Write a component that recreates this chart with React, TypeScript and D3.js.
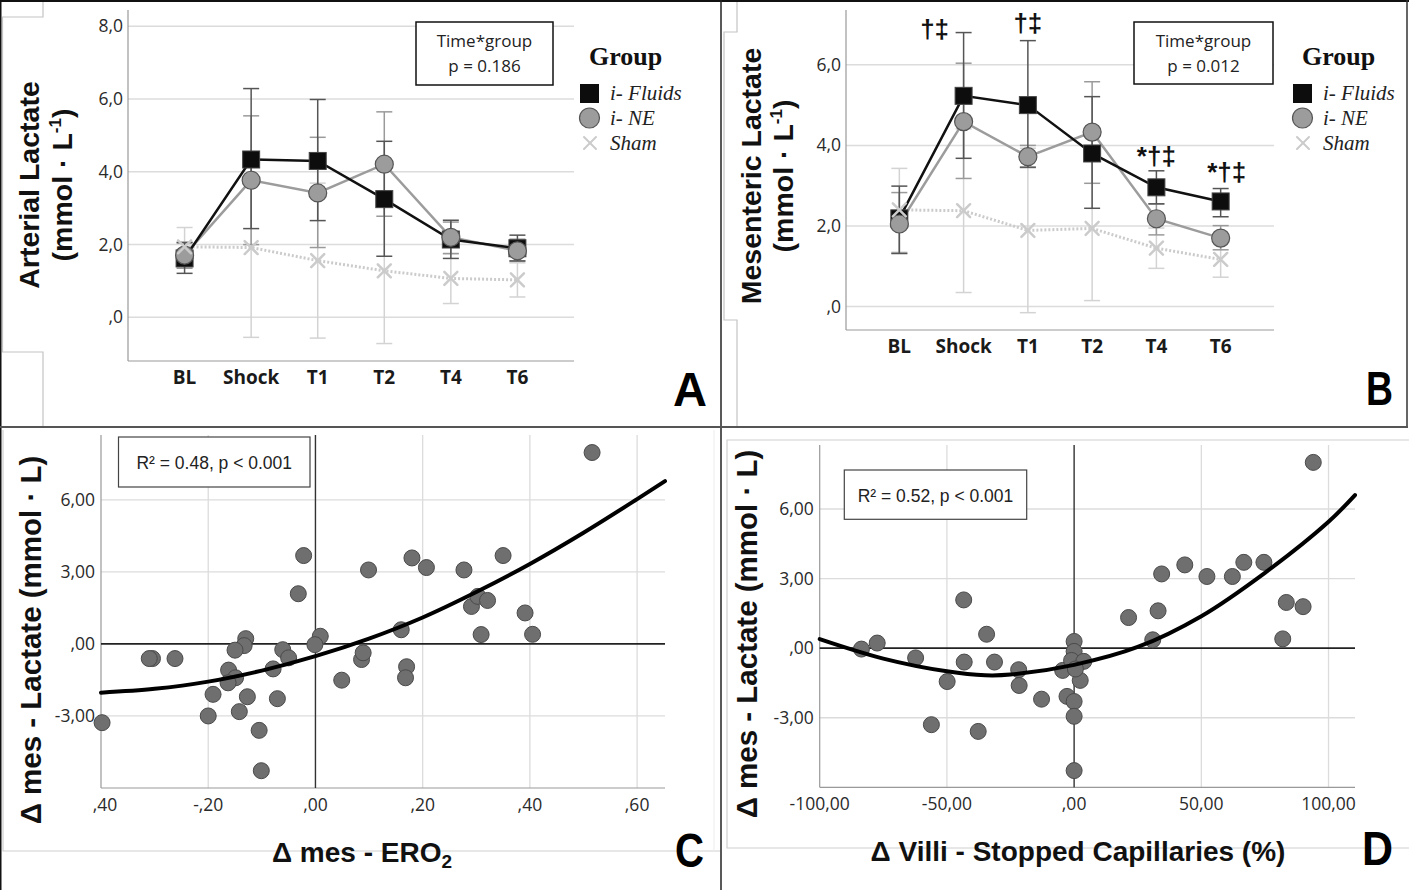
import React from "react";
import * as d3 from "d3";

// ---------- DATA ----------
const timepoints = ["BL", "Shock", "T1", "T2", "T4", "T6"];
const groupLabels = ["i- Fluids", "i- NE", "Sham"];

// Panel A – arterial lactate (mean and CI bounds)
const artFluidsMean = [1.62, 4.34, 4.3, 3.25, 2.14, 1.9];
const artFluidsLow = [1.21, 2.44, 2.66, 1.68, 1.62, 1.55];
const artFluidsHigh = [2.05, 6.29, 5.99, 4.84, 2.67, 2.26];
const artNEMean = [1.71, 3.77, 3.42, 4.21, 2.2, 1.83];
const artNELow = [1.35, 2.0, 1.92, 2.78, 1.75, 1.55];
const artNEHigh = [2.07, 5.54, 4.95, 5.65, 2.62, 2.15];
const artShamMean = [1.94, 1.92, 1.56, 1.28, 1.07, 1.03];
const artShamLow = [1.41, -0.55, -0.57, -0.72, 0.38, 0.56];
const artShamHigh = [2.47, 4.4, 3.69, 3.28, 1.76, 1.5];
const artYTicks = [0, 2, 4, 6, 8];
const artYTickLabels = [",0", "2,0", "4,0", "6,0", "8,0"];
const artStat = ["Time*group", "p = 0.186"];

// Panel B – mesenteric lactate
const mesFluidsMean = [2.19, 5.23, 5.0, 3.8, 2.96, 2.61];
const mesFluidsLow = [1.32, 3.68, 3.46, 2.44, 2.55, 2.23];
const mesFluidsHigh = [2.99, 6.8, 6.6, 5.21, 3.37, 2.93];
const mesNEMean = [2.05, 4.59, 3.72, 4.33, 2.18, 1.7];
const mesNELow = [1.32, 3.18, 3.45, 3.06, 1.78, 1.41];
const mesNEHigh = [2.83, 6.04, 4.0, 5.58, 2.55, 2.01];
const mesShamMean = [2.4, 2.38, 1.89, 1.94, 1.45, 1.17];
const mesShamLow = [1.35, 0.35, -0.15, 0.15, 0.95, 0.73];
const mesShamHigh = [3.43, 4.41, 3.93, 3.73, 1.95, 1.61];
const mesYTicks = [0, 2, 4, 6];
const mesYTickLabels = [",0", "2,0", "4,0", "6,0"];
const mesStat = ["Time*group", "p = 0.012"];
const mesSigLabels = ["", "†‡", "†‡", "", "*†‡", "*†‡"];

// Panel C – Δ mes-ERO2 vs Δ mes-lactate
const cX = [0.516, -0.022, -0.032, 0.18, 0.207, 0.277, 0.35, 0.099, 0.291, 0.303, 0.321, 0.391, 0.309, 0.405, 0.16, 0.009, -0.001, -0.13, -0.133, -0.15, -0.061, -0.05, -0.304, -0.262, 0.086, 0.089, -0.079, -0.162, -0.149, -0.163, 0.049, 0.17, 0.168, -0.191, -0.127, -0.071, -0.142, -0.2, -0.398, -0.105, -0.101, -0.31];
const cY = [7.97, 3.68, 2.09, 3.58, 3.18, 3.08, 3.68, 3.08, 1.56, 1.98, 1.81, 1.29, 0.39, 0.4, 0.59, 0.32, -0.03, 0.22, -0.07, -0.26, -0.24, -0.58, -0.61, -0.61, -0.65, -0.37, -1.04, -1.09, -1.41, -1.62, -1.51, -0.95, -1.41, -2.1, -2.2, -2.28, -2.82, -3.0, -3.28, -3.6, -5.28, -0.61];
const cFitX = [-0.4, -0.3, -0.2, -0.1, 0, 0.1, 0.2, 0.3, 0.4, 0.5, 0.6, 0.652];
const cFitY = [-2.03, -1.87, -1.57, -1.11, -0.51, 0.22, 1.1, 2.16, 3.33, 4.63, 6.03, 6.78];
const cXTicks = [-0.4, -0.2, 0, 0.2, 0.4, 0.6];
const cXTickLabels = [",40", "-,20", ",00", ",20", ",40", ",60"];
const cYTicks = [-3, 0, 3, 6];
const cYTickLabels = ["-3,00", ",00", "3,00", "6,00"];
const cStat = "R² = 0.48, p < 0.001";

// Panel D – Δ villi stopped capillaries vs Δ mes-lactate
const dX = [94.0, -43.4, -34.4, -83.6, -77.4, -62.3, -43.2, -31.3, -49.9, -21.8, -21.6, -56.1, -37.7, -12.8, -4.5, -2.8, 0, 0, -1.0, 3.8, 2.4, 0, 0, 0, 21.4, 30.9, 33.0, 34.4, 43.5, 52.2, 62.2, 66.7, 74.6, 83.4, 90.0, 82.0, 0.5];
const dY = [8.01, 2.08, 0.6, -0.04, 0.22, -0.42, -0.6, -0.6, -1.44, -0.93, -1.61, -3.3, -3.59, -2.2, -0.96, -2.08, 0.29, -0.14, -0.53, -0.57, -1.39, -2.3, -2.94, -5.28, 1.32, 0.36, 1.61, 3.2, 3.59, 3.09, 3.09, 3.7, 3.7, 1.97, 1.79, 0.4, -0.9];
const dFitX = [-100, -75, -50, -35, -25, 0, 25, 50, 75, 100, 110.4];
const dFitY = [0.39, -0.45, -1.0, -1.17, -1.14, -0.72, 0.05, 1.38, 3.25, 5.45, 6.6];
const dXTicks = [-100, -50, 0, 50, 100];
const dXTickLabels = ["-100,00", "-50,00", ",00", "50,00", "100,00"];
const dYTicks = [-3, 0, 3, 6];
const dYTickLabels = ["-3,00", ",00", "3,00", "6,00"];
const dStat = "R² = 0.52, p < 0.001";

// ---------- STYLE ----------
const F_TICK = "'Open Sans', 'Noto Sans', sans-serif";
const F_BOLD = "'Liberation Sans', Arial, sans-serif";
const F_SERIF = "'Liberation Serif', 'Times New Roman', serif";
const C_FLUID = "#111";
const C_NE = "#9c9c9c";
const C_SHAM = "#cbcbcb";

type Ser = { mean: number[]; low: number[]; high: number[] };

function XMark({ cx, cy, s, color, w }: any) {
  return (
    <g stroke={color} strokeWidth={w} strokeLinecap="round">
      <line x1={cx - s} y1={cy - s} x2={cx + s} y2={cy + s} />
      <line x1={cx - s} y1={cy + s} x2={cx + s} y2={cy - s} />
    </g>
  );
}

function LinePanel(props: any) {
  const { x0, x1, yTop, yBot, yDomain, padding, yTicks, yTickLabels, fluids, ne, sham, stat, box, legendX, title1, title2, t1x, t2x, titleY, sig, sigDx, sigDy } = props;
  const x = d3.scalePoint<string>().domain(timepoints).range([x0, x1]).padding(padding);
  const y = d3.scaleLinear().domain(yDomain).range([yBot, yTop]);
  const px = (i: number) => x(timepoints[i]) as number;
  const lineGen = d3.line<number>().x((_, i) => px(i)).y((d) => y(d));
  const errBars = (s: Ser, color: string) =>
    s.mean.map((_, i) => (
      <g key={i} stroke={color} strokeWidth={1.5}>
        <line x1={px(i)} x2={px(i)} y1={y(s.low[i])} y2={y(s.high[i])} />
        <line x1={px(i) - 8} x2={px(i) + 8} y1={y(s.low[i])} y2={y(s.low[i])} />
        <line x1={px(i) - 8} x2={px(i) + 8} y1={y(s.high[i])} y2={y(s.high[i])} />
      </g>
    ));
  return (
    <g>
      {yTicks.map((t: number, i: number) => (
        <g key={t}>
          <line x1={x0} x2={x1} y1={y(t)} y2={y(t)} stroke="#dcdcdc" strokeWidth={1.5} />
          <text x={x0 - 5} y={y(t) + 6} textAnchor="end" fontFamily={F_TICK} fontSize={17.5} fill="#2a2a2a">{yTickLabels[i]}</text>
        </g>
      ))}
      <line x1={x0} x2={x0} y1={yTop} y2={yBot} stroke="#999" strokeWidth={1.2} />
      <line x1={x0} x2={x1} y1={yBot} y2={yBot} stroke="#999" strokeWidth={1.2} />
      {timepoints.map((t, i) => (
        <text key={t} x={px(i)} y={yBot + 23} textAnchor="middle" fontFamily={F_TICK} fontWeight="bold" fontSize={19} fill="#1a1a1a">{t}</text>
      ))}
      {errBars(sham, "#d3d3d3")}
      {errBars(ne, "#9a9a9a")}
      {errBars(fluids, "#555")}
      <path d={lineGen(sham.mean) || ""} fill="none" stroke={C_SHAM} strokeWidth={3} strokeDasharray="2,2" />
      <path d={lineGen(ne.mean) || ""} fill="none" stroke={C_NE} strokeWidth={2.5} />
      <path d={lineGen(fluids.mean) || ""} fill="none" stroke={C_FLUID} strokeWidth={2.5} />
      {fluids.mean.map((v: number, i: number) => (
        <rect key={i} x={px(i) - 8.5} y={y(v) - 8.5} width={17} height={17} fill="#0d0d0d" stroke="#444" strokeWidth={1} />
      ))}
      {ne.mean.map((v: number, i: number) => (
        <circle key={i} cx={px(i)} cy={y(v)} r={9} fill={C_NE} stroke="#555" strokeWidth={1.2} />
      ))}
      {sham.mean.map((v: number, i: number) => (
        <XMark key={i} cx={px(i)} cy={y(v)} s={6.5} color={C_SHAM} w={2.5} />
      ))}
      {sig &&
        sig.map((s: string, i: number) =>
          s ? (
            <text key={i} x={px(i) + sigDx[i]} y={y(fluids.high[i]) + sigDy[i]} textAnchor="middle" fontFamily={F_BOLD} fontWeight="bold" fontSize={26} fill="#111">{s}</text>
          ) : null
        )}
      <rect x={box[0]} y={box[1]} width={box[2]} height={box[3]} fill="#fff" stroke="#111" strokeWidth={1.5} />
      <text x={box[0] + box[2] / 2} y={box[1] + 25} textAnchor="middle" fontFamily={F_TICK} fontSize={17} fill="#222">{stat[0]}</text>
      <text x={box[0] + box[2] / 2} y={box[1] + 50} textAnchor="middle" fontFamily={F_TICK} fontSize={17} fill="#222">{stat[1]}</text>
      {/* legend */}
      <text x={legendX - 3} y={65} fontFamily={F_SERIF} fontWeight="bold" fontSize={26} fill="#111">Group</text>
      <rect x={legendX - 12} y={84} width={19} height={19} fill="#0d0d0d" />
      <circle cx={legendX - 2.5} cy={118} r={10} fill={C_NE} stroke="#555" strokeWidth={1.2} />
      <XMark cx={legendX - 2} cy={143} s={6} color={C_SHAM} w={2} />
      {groupLabels.map((g, i) => (
        <text key={g} x={legendX + 18} y={100 + i * 25} fontFamily={F_SERIF} fontStyle="italic" fontSize={21} fill="#222">{g}</text>
      ))}
      {/* y title */}
      <text transform={`translate(${t1x},${titleY}) rotate(-90)`} textAnchor="middle" fontFamily={F_BOLD} fontWeight="bold" fontSize={28.5} fill="#111">{title1}</text>
      <text transform={`translate(${t2x},${titleY}) rotate(-90)`} textAnchor="middle" fontFamily={F_BOLD} fontWeight="bold" fontSize={28.5} fill="#111">
        {title2}
        <tspan fontSize={17} dy={-11}>-1</tspan>
        <tspan dy={11}>)</tspan>
      </text>
    </g>
  );
}

function ScatterPanel(props: any) {
  const { x0, x1, yTop, yBot, xDomain, yDomain, xs, ys, fitX, fitY, xTicks, xTickLabels, yTicks, yTickLabels, stat, box, xTitle, xTitleSub, xTitleX, yTitleX, yTitleY } = props;
  const x = d3.scaleLinear().domain(xDomain).range([x0, x1]);
  const y = d3.scaleLinear().domain(yDomain).range([yBot, yTop]);
  const fit = d3.line<number>().x((d) => x(d)).y((_, i) => y(fitY[i])).curve(d3.curveCatmullRom.alpha(0.5));
  return (
    <g>
      {xTicks.map((t: number, i: number) => (
        <g key={"x" + t}>
          {t !== 0 && i > 0 && <line x1={x(t)} x2={x(t)} y1={yTop} y2={yBot} stroke="#dcdcdc" strokeWidth={1.3} />}
          <text x={x(t) + (i === 0 && xTickLabels[0].startsWith(",") ? 4 : 0)} y={yBot + 23} textAnchor="middle" fontFamily={F_TICK} fontSize={17.5} fill="#2a2a2a">{xTickLabels[i]}</text>
        </g>
      ))}
      {yTicks.map((t: number, i: number) => (
        <g key={"y" + t}>
          {t !== 0 && <line x1={x0} x2={x1} y1={y(t)} y2={y(t)} stroke="#dcdcdc" strokeWidth={1.3} />}
          <text x={x0 - 6} y={y(t) + 6} textAnchor="end" fontFamily={F_TICK} fontSize={17.5} fill="#2a2a2a">{yTickLabels[i]}</text>
        </g>
      ))}
      <line x1={x0} x2={x0} y1={yTop} y2={yBot} stroke="#999" strokeWidth={1.2} />
      <line x1={x0} x2={x1} y1={yBot} y2={yBot} stroke="#999" strokeWidth={1.2} />
      <line x1={x0} x2={x1} y1={y(0)} y2={y(0)} stroke="#222" strokeWidth={1.6} />
      <line x1={x(0)} x2={x(0)} y1={yTop} y2={yBot} stroke="#333" strokeWidth={1.4} />
      <rect x={box[0]} y={box[1]} width={box[2]} height={box[3]} fill="#fff" stroke="#444" strokeWidth={1.2} />
      <text x={box[0] + box[2] / 2} y={box[1] + 32} textAnchor="middle" fontFamily={F_BOLD} fontSize={17.5} fill="#222">{stat}</text>
      {xs.map((v: number, i: number) => (
        <circle key={i} cx={x(v)} cy={y(ys[i])} r={8} fill="#6f6f6f" stroke="#4a4a4a" strokeWidth={1} />
      ))}
      <path d={fit(fitX) || ""} fill="none" stroke="#000" strokeWidth={4} strokeLinecap="round" />
      <text x={xTitleX} y={yBot + 74} textAnchor="middle" fontFamily={F_BOLD} fontWeight="bold" fontSize={28} fill="#111">
        {xTitle}
        {xTitleSub && <tspan fontSize={19} dy={6}>{xTitleSub}</tspan>}
      </text>
      <text transform={`translate(${yTitleX},${yTitleY}) rotate(-90)`} textAnchor="middle" fontFamily={F_BOLD} fontWeight="bold" fontSize={29.5} fill="#111">Δ mes - Lactate (mmol · L)</text>
    </g>
  );
}

export default function App() {
  const letter = (t: string, x: number, y: number, len: number) => (
    <text x={x} y={y} fontFamily={F_BOLD} fontWeight="bold" fontSize={48} fill="#000" textLength={len} lengthAdjust="spacingAndGlyphs">{t}</text>
  );
  return (
    <svg width={1409} height={890} style={{ position: "absolute", left: 0, top: 0, background: "#fff" }}>
      <rect x={0} y={0} width={1409} height={890} fill="#fff" />
      {/* frames */}
      <path d="M43,2 V17 H2.5 V352 H43 V426" fill="none" stroke="#c4c4c4" strokeWidth={1.2} />
      <path d="M737,2 V32 H724 V320 H737 V426" fill="none" stroke="#c4c4c4" strokeWidth={1.2} />
      <path d="M3,430 V851 H720" fill="none" stroke="#cfcfcf" strokeWidth={1.2} />
      <line x1={714} x2={714} y1={430} y2={851} stroke="#ececec" strokeWidth={1} />
      <path d="M1409,440 H727 V848 H1409" fill="none" stroke="#cfcfcf" strokeWidth={1.2} />
      <line x1={0} x2={1409} y1={1} y2={1} stroke="#111" strokeWidth={2} />
      <line x1={0.75} x2={0.75} y1={0} y2={890} stroke="#111" strokeWidth={1.5} />
      <line x1={721} x2={721} y1={0} y2={890} stroke="#222" strokeWidth={1.5} />
      <line x1={1407} x2={1407} y1={0} y2={427} stroke="#333" strokeWidth={1.5} />
      <line x1={0} x2={1408} y1={427} y2={427} stroke="#555" strokeWidth={2} />

      <LinePanel
        x0={128} x1={574} yTop={10} yBot={361} yDomain={[-1.2, 8.45]} padding={0.85}
        yTicks={artYTicks} yTickLabels={artYTickLabels}
        fluids={{ mean: artFluidsMean, low: artFluidsLow, high: artFluidsHigh }}
        ne={{ mean: artNEMean, low: artNELow, high: artNEHigh }}
        sham={{ mean: artShamMean, low: artShamLow, high: artShamHigh }}
        stat={artStat} box={[416, 22, 137, 63]} legendX={592}
        title1="Arterial Lactate" title2="(mmol · L" t1x={39} t2x={72} titleY={185}
      />
      <LinePanel
        x0={846} x1={1274} yTop={10} yBot={330} yDomain={[-0.58, 7.36]} padding={0.83}
        yTicks={mesYTicks} yTickLabels={mesYTickLabels}
        fluids={{ mean: mesFluidsMean, low: mesFluidsLow, high: mesFluidsHigh }}
        ne={{ mean: mesNEMean, low: mesNELow, high: mesNEHigh }}
        sham={{ mean: mesShamMean, low: mesShamLow, high: mesShamHigh }}
        stat={mesStat} box={[1134, 22, 139, 62]} legendX={1305}
        title1="Mesenteric Lactate" title2="(mmol · L" t1x={761} t2x={793} titleY={176}
        sig={mesSigLabels} sigDx={[0, -29, 0, 0, 0, 6]} sigDy={[0, 5, -9, -6, -6, -8]}
      />
      <ScatterPanel
        x0={101} x1={665} yTop={435} yBot={788} xDomain={[-0.4, 0.652]} yDomain={[-6, 8.7]}
        xs={cX} ys={cY} fitX={cFitX} fitY={cFitY}
        xTicks={cXTicks} xTickLabels={cXTickLabels} yTicks={cYTicks} yTickLabels={cYTickLabels}
        stat={cStat} box={[118.5, 437, 191.5, 50]}
        xTitle="Δ mes - ERO" xTitleSub="2" xTitleX={362} yTitleX={41} yTitleY={640}
      />
      <ScatterPanel
        x0={819.7} x1={1355} yTop={445} yBot={787.3} xDomain={[-100, 110.4]} yDomain={[-6, 8.76]}
        xs={dX} ys={dY} fitX={dFitX} fitY={dFitY}
        xTicks={dXTicks} xTickLabels={dXTickLabels} yTicks={dYTicks} yTickLabels={dYTickLabels}
        stat={dStat} box={[844.3, 470, 182.4, 49.3]}
        xTitle="Δ Villi - Stopped Capillaries (%)" xTitleX={1078} yTitleX={757} yTitleY={634}
      />
      {letter("A", 673, 406, 34)}
      {letter("B", 1366, 405, 27)}
      {letter("C", 675, 867, 29)}
      {letter("D", 1362, 865, 31)}
    </svg>
  );
}
